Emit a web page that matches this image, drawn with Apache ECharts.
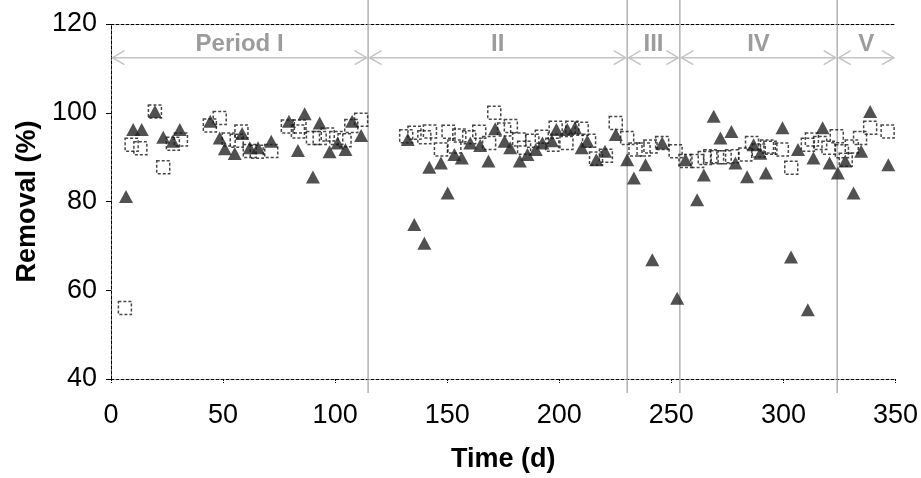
<!DOCTYPE html>
<html>
<head>
<meta charset="utf-8">
<script src="https://cdn.jsdelivr.net/npm/echarts@6/dist/echarts.min.js"></script>
<style>html,body{margin:0;padding:0;background:#fff}#c{width:921px;height:478px}</style>
</head>
<body>
<div id="c"></div>
<script>
// Triangles (filled) [time, removal]
var triangleData = [
[6.7,81.1],[9.9,96.2],[13.7,96.2],[19.6,100.3],[23.3,94.5],[27.6,93.6],[30.7,96.2],
[44.3,98.1],[48.5,94.3],[50.8,91.9],[55.2,90.8],[58.5,95.3],[61.9,92.1],[65.6,92.1],
[71.5,93.6],[79.4,98.1],[83.4,91.5],[86.4,99.8],[90.1,85.5],[93.1,97.7],[97.5,91.2],
[101.1,93.2],[104.6,91.7],[107.6,98.1],[111.6,94.9],
[132.4,94.0],[135.3,74.8],[139.8,70.6],[142.0,87.7],[147.2,88.7],[150.2,81.9],[153.2,90.6],
[156.5,89.8],[160.3,93.2],[164.7,92.6],[168.4,89.1],[171.4,96.4],[175.6,93.6],[178.1,92.1],
[182.4,89.1],[185.8,90.6],[189.5,91.7],[192.5,93.2],[196.7,93.7],[198.7,96.2],[203.6,96.2],
[207.0,96.6],[210.0,92.1],[212.5,93.6],[216.5,89.4],[220.4,91.3],[225.2,95.1],
[230.3,89.4],[233.3,85.3],[238.5,88.3],[241.5,66.9],[245.9,93.2],[252.6,58.2],
[256.3,89.4],[261.5,80.4],[264.5,86.0],[268.9,99.2],[271.9,94.3],[276.8,95.8],[278.6,88.7],
[283.8,85.6],[286.7,92.8],[289.7,90.9],[292.2,86.4],[299.6,96.6],[303.4,67.5],[306.5,91.7],
[310.9,55.6],[313.4,89.8],[317.5,96.6],[320.6,88.7],[324.3,86.4],[327.6,89.1],[331.3,81.9],
[334.7,91.3],[338.7,100.3],[346.8,88.3]
];
// Squares (hollow, dashed) [time, removal]
var squareData = [
[6.2,56.0],[9.2,92.8],[13.1,92.0],[19.6,100.3],[23.3,87.7],[27.6,93.0],[31.2,94.0],
[44.1,97.1],[48.5,98.8],[52.5,94.0],[56.1,93.7],[58.2,95.8],[61.9,91.4],[65.0,91.2],
[71.5,91.4],[78.9,96.9],[83.4,95.8],[84.1,96.9],[90.1,94.3],[93.1,94.3],[96.7,95.1],
[100.5,94.3],[104.2,93.8],[107.2,97.0],[111.6,98.4],
[131.7,94.7],[135.4,95.5],[139.8,94.5],[142.3,95.8],[147.2,91.7],[150.6,95.7],[153.2,92.4],
[155.4,94.9],[159.8,94.5],[164.3,95.7],[168.7,93.2],[171.0,100.0],[175.4,96.2],[178.4,97.0],
[182.1,94.0],[184.3,92.1],[188.0,93.7],[192.2,94.6],[196.9,92.8],[198.4,96.6],[203.2,93.2],
[205.8,96.6],[210.0,96.4],[213.3,93.7],[216.4,89.7],[220.8,90.3],[225.2,97.7],
[230.3,94.3],[234.0,91.7],[237.6,91.7],[240.7,92.4],[245.9,93.2],[251.9,91.3],
[256.3,89.1],[261.5,89.1],[264.9,89.8],[267.4,90.2],[270.4,90.0],[273.8,90.0],[277.1,90.2],
[283.0,90.6],[286.0,93.2],[289.0,91.5],[292.7,92.4],[294.2,92.1],[299.3,91.7],[303.5,87.6],
[310.9,92.8],[312.7,94.0],[316.4,93.2],[320.1,92.1],[323.8,94.7],[326.1,91.3],[327.8,89.4],
[330.5,92.4],[334.2,94.3],[338.7,96.6],[346.5,95.8]
];
// Period boundaries and labels
var periodBounds = [0, 114.7, 230.3, 253.8, 324, 350];
var periodLabels = ['Period I', 'II', 'III', 'IV', 'V'];
var arrowLevel = 112.4;

var periods = [];
for (var i = 0; i < periodLabels.length; i++) {
  periods.push([periodBounds[i], periodBounds[i + 1]]);
}
var dividers = periodBounds.slice(1, periodBounds.length - 1).map(function (v) { return [v]; });

var chart = echarts.init(document.getElementById('c'));
var FONT = 'Liberation Sans, Arial, sans-serif';
chart.setOption({
  animation: false,
  grid: { left: 111, right: 24, top: 24, bottom: 99, containLabel: false },
  xAxis: [{
    type: 'value', min: 0, max: 350, interval: 50,
    name: 'Time (d)', nameLocation: 'middle', nameGap: 67,
    nameTextStyle: { fontFamily: FONT, fontSize: 27, fontWeight: 'bold', color: '#000' },
    axisLine: { lineStyle: { color: '#000', type: [3, 2], width: 1 } },
    axisTick: { show: true, inside: false, length: 4, lineStyle: { color: '#000', type: [2, 1] } },
    axisLabel: { fontFamily: FONT, fontSize: 27, color: '#000', margin: 23 },
    splitLine: { show: false }
  }, {
    type: 'value', min: 0, max: 350, position: 'top',
    axisLine: { show: true, lineStyle: { color: '#000', type: [3, 2], width: 1 } },
    axisTick: { show: false }, axisLabel: { show: false }, splitLine: { show: false }
  }],
  yAxis: [{
    type: 'value', min: 40, max: 120, interval: 20,
    name: 'Removal (%)', nameLocation: 'middle', nameGap: 70, nameRotate: 90,
    nameTextStyle: { fontFamily: FONT, fontSize: 27, fontWeight: 'bold', color: '#000' },
    axisLine: { show: true, lineStyle: { color: '#000', type: [3, 2], width: 1 } },
    axisTick: { show: true, inside: false, length: 5, lineStyle: { color: '#000' } },
    axisLabel: { fontFamily: FONT, fontSize: 27, color: '#000', margin: 14 },
    splitLine: { show: false }
  }, {
    type: 'value', min: 40, max: 120, position: 'right',
    axisLine: { show: true, lineStyle: { color: '#000', type: [3, 2], width: 1 } },
    axisTick: { show: false }, axisLabel: { show: false }, splitLine: { show: false }
  }],
  series: [{
    type: 'custom', name: 'dividers', data: dividers, clip: false, z: 1,
    renderItem: function (params, api) {
      var top = api.coord([api.value(0), 120]);
      var bot = api.coord([api.value(0), 40]);
      return {
        type: 'line',
        shape: { x1: top[0], y1: top[1] - 24, x2: bot[0], y2: bot[1] + 14 },
        style: { stroke: '#a6a6a6', lineWidth: 1.3 }
      };
    }
  }, {
    type: 'custom', name: 'periods', data: periods, clip: false, z: 1,
    encode: { x: [0, 1] },
    renderItem: function (params, api) {
      var a = api.coord([api.value(0), arrowLevel]);
      var b = api.coord([api.value(1), arrowLevel]);
      var c = api.coord([(api.value(0) + api.value(1)) / 2, arrowLevel]);
      var x1 = a[0] + 1.5, x2 = b[0] - 1.5, y = a[1];
      var st = { stroke: '#c4c4c4', lineWidth: 1.5, fill: null };
      return {
        type: 'group',
        children: [
          { type: 'line', shape: { x1: x1, y1: y, x2: x2, y2: y }, style: st },
          { type: 'polyline', shape: { points: [[x1 + 12, y - 7], [x1, y], [x1 + 12, y + 7]] }, style: st },
          { type: 'polyline', shape: { points: [[x2 - 12, y - 7], [x2, y], [x2 - 12, y + 7]] }, style: st },
          { type: 'text', x: c[0], y: y - 13,
            style: { text: periodLabels[params.dataIndex], fill: '#9c9c9c', font: 'bold 24px ' + FONT,
                     textAlign: 'center', textVerticalAlign: 'middle' } }
        ]
      };
    }
  }, {
    type: 'scatter', name: 'triangle', data: triangleData, symbol: 'triangle',
    symbolSize: [14, 13], z: 3,
    itemStyle: { color: '#262626' }
  }, {
    type: 'scatter', name: 'square', data: squareData, symbol: 'rect',
    symbolSize: [13, 13], z: 4,
    itemStyle: { color: 'rgba(0,0,0,0)', borderColor: '#1a1a1a', borderWidth: 1.5, borderType: [3, 2] }
  }]
});
</script>
</body>
</html>
